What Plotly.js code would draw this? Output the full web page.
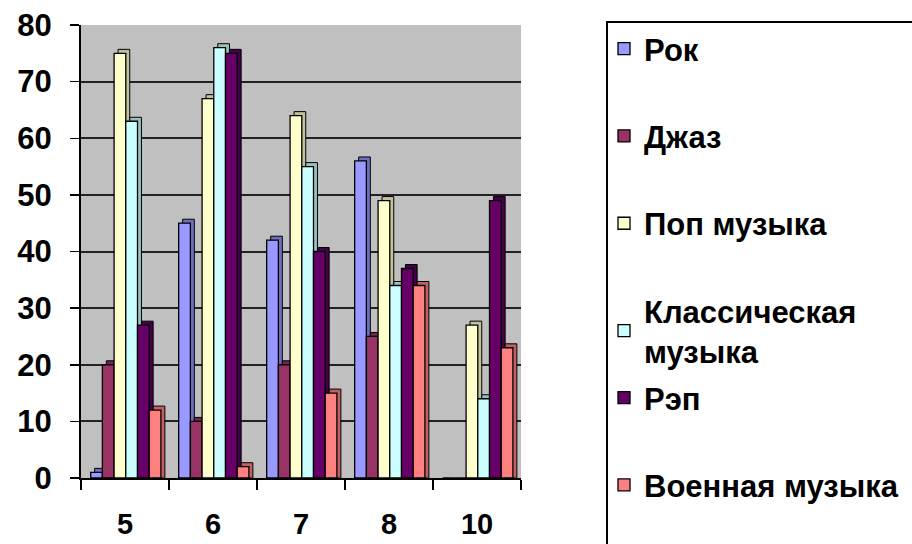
<!DOCTYPE html>
<html><head><meta charset="utf-8">
<script src="https://cdn.plot.ly/plotly-3.0.1.min.js"></script>
<style>html,body{margin:0;padding:0;background:#fff}#chart{width:912px;height:544px}</style>
</head><body><div id="chart"></div>
<script>
// ---- data ----
const grades = ['5', '6', '7', '8', '10'];
const seriesNames = ['Рок', 'Джаз', 'Поп музыка', 'Классическая<br>музыка', 'Рэп', 'Военная музыка'];
const rock = [1, 45, 42, 56, 0];
const jazz = [20, 10, 20, 25, 0];
const pop = [75, 67, 64, 49, 27];
const classical = [63, 76, 55, 34, 14];
const rap = [27, 75, 40, 37, 49];
const military = [12, 2, 15, 34, 23];
const yTicks = [0, 10, 20, 30, 40, 50, 60, 70, 80];

// ---- styles ----
const seriesValues = [rock, jazz, pop, classical, rap, military];
const colors = ['#9999FF', '#993366', '#FFFFCC', '#CCFFFF', '#660066', '#FF8080'];
const sideColors = ['#6E6EC0', '#70264B', '#C2C29A', '#93C2C2', '#44004A', '#C06060'];
const FONT = 'Liberation Sans, Arial, sans-serif';
const barW = 0.133, startOff = -0.39, dx = 0.045, dy = 0.7;

const traces = [];
seriesValues.forEach((vals, i) => {
  const off = startOff + i * barW;
  // depth (side + top face) behind the bar
  traces.push({
    type: 'bar', x: grades, y: vals.map(v => v > 0 ? v + dy : null),
    width: barW, offset: off + dx, showlegend: false, hoverinfo: 'skip',
    marker: {color: sideColors[i], line: {color: '#000', width: 1}}
  });
  traces.push({
    type: 'bar', name: seriesNames[i], x: grades, y: vals,
    width: barW, offset: off, legendgroup: 'g' + i,
    legend: i < 4 ? 'legend' : 'legend2',
    marker: {color: colors[i], line: {color: '#000', width: 1.3}}
  });
});

const px = (p) => (p - 81) / 440;   // helper for paper x
const py = (p) => (478 - p) / 453;  // helper for paper y

const legendCommon = {
  font: {family: FONT, size: 31, color: '#000', weight: 'bold'},
  bgcolor: 'rgba(0,0,0,0)', borderwidth: 0,
  xanchor: 'left', yanchor: 'top', traceorder: 'grouped', tracegroupgap: 44,
  itemclick: false, maxheight: 1000
};

const layout = {
  width: 912, height: 544,
  margin: {l: 81, r: 391, t: 25, b: 66, autoexpand: false},
  paper_bgcolor: '#FFFFFF', plot_bgcolor: '#C0C0C0',
  barmode: 'overlay',
  font: {family: FONT, color: '#000'},
  xaxis: {
    type: 'category', range: [-0.5, 4.5],
    tickson: 'boundaries', ticks: 'outside', ticklen: 10, tickwidth: 1.5, tickcolor: '#000',
    showline: true, linecolor: '#000', linewidth: 1.5,
    showgrid: false, zeroline: false,
    tickfont: {family: FONT, size: 29, color: '#000', weight: 'bold'},
    ticklabelstandoff: 20
  },
  yaxis: {
    range: [0, 80], tickvals: yTicks, ticktext: yTicks.map(String),
    ticks: 'outside', ticklen: 9, tickwidth: 1.5, tickcolor: '#000',
    showline: true, linecolor: '#000', linewidth: 2,
    showgrid: true, gridcolor: '#222222', gridwidth: 2, zeroline: false,
    tickfont: {family: FONT, size: 31, color: '#000', weight: 'bold'},
    ticklabelstandoff: 12
  },
  legend: Object.assign({x: px(604), y: py(22)}, legendCommon),
  legend2: Object.assign({x: px(604), y: py(371)}, legendCommon),
  shapes: [{
    type: 'rect', xref: 'paper', yref: 'paper',
    x0: px(607), x1: px(930), y0: py(22), y1: py(560),
    line: {color: '#000', width: 2}, fillcolor: 'rgba(0,0,0,0)', layer: 'below'
  }]
};

Plotly.newPlot('chart', traces, layout, {staticPlot: true});
</script>
</body></html>
